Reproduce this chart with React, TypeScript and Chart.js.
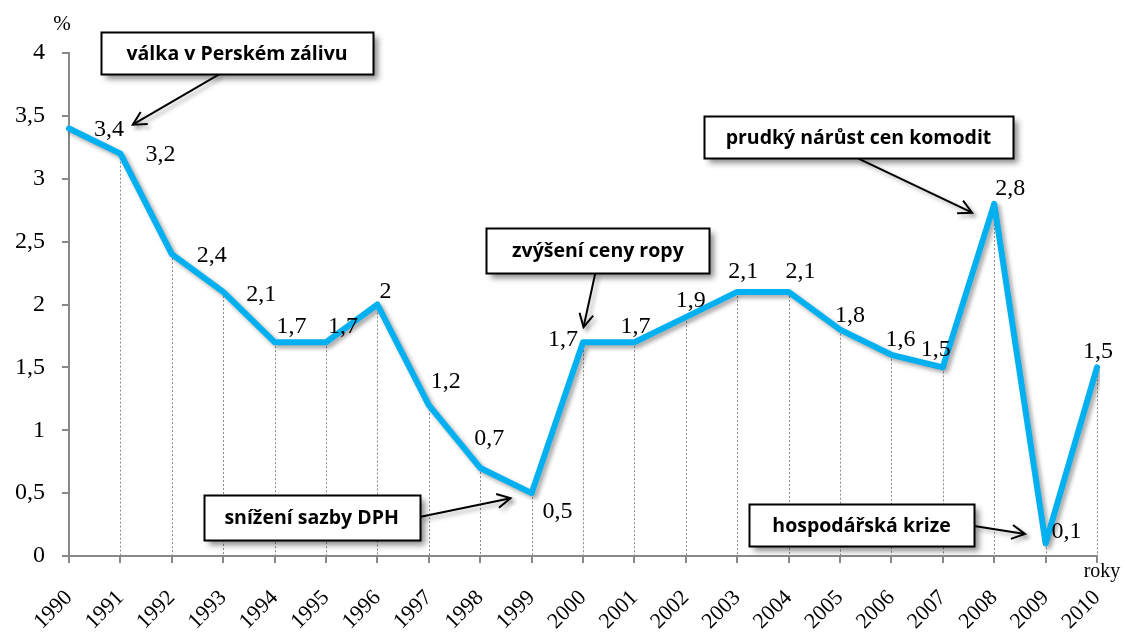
import React, { useEffect, useRef } from "react";
import { Chart, registerables } from "chart.js";

Chart.register(...registerables);

// ---- data ----
const years = ["1990","1991","1992","1993","1994","1995","1996","1997","1998","1999","2000","2001","2002","2003","2004","2005","2006","2007","2008","2009","2010"];
const inflation = [3.4, 3.2, 2.4, 2.1, 1.7, 1.7, 2.0, 1.2, 0.7, 0.5, 1.7, 1.7, 1.9, 2.1, 2.1, 1.8, 1.6, 1.5, 2.8, 0.1, 1.5];
const yTickValues = [0, 0.5, 1, 1.5, 2, 2.5, 3, 3.5, 4];
const yUnit = "%";
const xUnit = "roky";

// ---- label placement (style) ----
const labelDx = [40, 40, 40, 38, 17, 17, 8, 17, 9, 26, -20, 1, 5, 6, 12, 10, 9, -7, 16, 21, 1];
const labelDy = [1, 1, 2, 3, -16, -16, -13, -23, -29, 19, -3, -16, -16, -20, -20, -14, -15, -18, -15, -12, -16];

// ---- annotations (positions in axis units, sizes in px) ----
const annotations = [
  { text: "válka v Perském zálivu", cx: 3.27, cy: 4.0, w: 272, h: 42, fx: 2.92, fy: 3.83, tx: 1.24, ty: 3.43 },
  { text: "snížení sazby DPH", cx: 4.72, cy: 0.31, w: 216, h: 45, fx: 6.82, fy: 0.31, tx: 8.59, ty: 0.46 },
  { text: "zvýšení ceny ropy", cx: 10.29, cy: 2.43, w: 223, h: 45, fx: 10.24, fy: 2.25, tx: 10.01, ty: 1.82 },
  { text: "prudký nárůst cen komodit", cx: 15.36, cy: 3.33, w: 309, h: 42, fx: 15.36, fy: 3.16, tx: 17.57, ty: 2.73 },
  { text: "hospodářská krize", cx: 15.42, cy: 0.246, w: 225, h: 42, fx: 17.61, fy: 0.238, tx: 18.60, ty: 0.175 },
];

const fmt = (v: number) => String(v).replace(".", ",");

const dropLinesPlugin = {
  id: "dropLines",
  beforeDatasetsDraw(chart: any) {
    const { ctx, chartArea } = chart;
    const meta = chart.getDatasetMeta(0);
    ctx.save();
    ctx.strokeStyle = "#8a8a8a";
    ctx.lineWidth = 1;
    ctx.setLineDash([2, 2]);
    meta.data.forEach((pt: any) => {
      const x = Math.round(pt.x) + 0.5;
      ctx.beginPath();
      ctx.moveTo(x, pt.y);
      ctx.lineTo(x, chartArea.bottom);
      ctx.stroke();
    });
    ctx.restore();
  },
};

const shadowPlugin = {
  id: "lineShadow",
  beforeDatasetDraw(chart: any) {
    const ctx = chart.ctx;
    ctx.save();
    ctx.shadowColor = "rgba(0,0,0,0.35)";
    ctx.shadowOffsetX = 3;
    ctx.shadowOffsetY = 3;
    ctx.shadowBlur = 4;
  },
  afterDatasetDraw(chart: any) {
    chart.ctx.restore();
  },
};

const labelsPlugin = {
  id: "valueLabels",
  afterDatasetsDraw(chart: any) {
    const { ctx } = chart;
    const meta = chart.getDatasetMeta(0);
    ctx.save();
    ctx.font = '24px "Liberation Serif"';
    ctx.fillStyle = "#000";
    ctx.textAlign = "center";
    ctx.textBaseline = "middle";
    meta.data.forEach((pt: any, i: number) => {
      ctx.fillText(fmt(inflation[i]), pt.x + labelDx[i], pt.y + labelDy[i]);
    });
    ctx.restore();
  },
};

function drawArrow(ctx: any, x1: number, y1: number, x2: number, y2: number) {
  ctx.beginPath();
  ctx.moveTo(x1, y1);
  ctx.lineTo(x2, y2);
  ctx.stroke();
  const ang = Math.atan2(y2 - y1, x2 - x1);
  const len = 15;
  const spread = Math.PI / 6.5;
  ctx.beginPath();
  ctx.moveTo(x2 - len * Math.cos(ang - spread), y2 - len * Math.sin(ang - spread));
  ctx.lineTo(x2, y2);
  ctx.lineTo(x2 - len * Math.cos(ang + spread), y2 - len * Math.sin(ang + spread));
  ctx.stroke();
}

const annotationsPlugin = {
  id: "annotations",
  afterDraw(chart: any) {
    const { ctx, chartArea } = chart;
    const xs = chart.scales.x;
    const ys = chart.scales.y;
    const px = (i: number) => xs.getPixelForValue(i);
    const py = (v: number) => ys.getPixelForValue(v);

    ctx.save();
    // axis unit texts
    ctx.fillStyle = "#000";
    ctx.textAlign = "center";
    ctx.textBaseline = "middle";
    ctx.font = '21px "Liberation Serif"';
    ctx.fillText(yUnit, chartArea.left - 7, chartArea.top - 29);
    ctx.font = '20px "Liberation Serif"';
    ctx.fillText(xUnit, chartArea.right + 5, chartArea.bottom + 16);

    annotations.forEach((a) => {
      const cx = px(a.cx);
      const cy = py(a.cy);
      const x0 = Math.round(cx - a.w / 2) + 0.5;
      const y0 = Math.round(cy - a.h / 2) + 0.5;
      // arrow with shadow
      ctx.save();
      ctx.shadowColor = "rgba(0,0,0,0.35)";
      ctx.shadowOffsetX = 3;
      ctx.shadowOffsetY = 3;
      ctx.shadowBlur = 4;
      ctx.strokeStyle = "#000";
      ctx.lineWidth = 2;
      drawArrow(ctx, px(a.fx), py(a.fy), px(a.tx), py(a.ty));
      ctx.restore();
      // box with shadow
      ctx.save();
      ctx.shadowColor = "rgba(0,0,0,0.45)";
      ctx.shadowOffsetX = 4;
      ctx.shadowOffsetY = 4;
      ctx.shadowBlur = 6;
      ctx.fillStyle = "#fff";
      ctx.fillRect(x0, y0, a.w, a.h);
      ctx.restore();
      ctx.strokeStyle = "#000";
      ctx.lineWidth = 2;
      ctx.strokeRect(x0, y0, a.w, a.h);
      ctx.fillStyle = "#000";
      ctx.font = 'bold 19.5px "Open Sans"';
      ctx.textAlign = "center";
      ctx.textBaseline = "middle";
      ctx.fillText(a.text, cx, cy + 1);
    });
    ctx.restore();
  },
};

export default function App() {
  const ref = useRef<HTMLCanvasElement | null>(null);

  useEffect(() => {
    if (!ref.current) return;
    const chart = new Chart(ref.current, {
      type: "line",
      data: {
        labels: years,
        datasets: [
          {
            data: inflation,
            borderColor: "#00b0f0",
            borderWidth: 6,
            borderJoinStyle: "round",
            borderCapStyle: "round",
            pointRadius: 0,
            pointHoverRadius: 0,
            tension: 0,
            fill: false,
          },
        ],
      },
      options: {
        responsive: false,
        animation: false,
        events: [],
        layout: { padding: { top: 53, right: 28, left: 0, bottom: 0 } },
        plugins: {
          legend: { display: false },
          tooltip: { enabled: false },
          title: { display: false },
        },
        scales: {
          x: {
            type: "category",
            offset: false,
            border: { display: true, color: "#888", width: 2 },
            grid: {
              display: true,
              drawOnChartArea: false,
              drawTicks: true,
              tickLength: 7,
              color: "#888",
              lineWidth: 2,
            },
            ticks: {
              autoSkip: false,
              minRotation: 45,
              maxRotation: 45,
              padding: 22,
              color: "#000",
              font: { family: "Liberation Serif", size: 22 },
            },
            afterFit(scale: any) {
              scale.height = 79;
              scale.paddingLeft = 0;
              scale.paddingRight = 0;
            },
          },
          y: {
            min: 0,
            max: 4,
            border: { display: true, color: "#888", width: 2 },
            grid: {
              display: true,
              drawOnChartArea: false,
              drawTicks: true,
              tickLength: 7,
              color: "#888",
              lineWidth: 2,
            },
            afterBuildTicks(scale: any) {
              scale.ticks = yTickValues.map((v) => ({ value: v }));
            },
            ticks: {
              padding: 17,
              color: "#000",
              font: { family: "Liberation Serif", size: 24 },
              callback: (v: any) => fmt(Number(v)),
            },
            afterFit(scale: any) {
              scale.width = 69;
            },
          },
        },
      },
      plugins: [dropLinesPlugin, shadowPlugin, labelsPlugin, annotationsPlugin],
    } as any);
    return () => chart.destroy();
  }, []);

  return (
    <div style={{ position: "absolute", left: 0, top: 0, width: 1125, height: 635, background: "#fff" }}>
      <canvas ref={ref} width={1125} height={635} style={{ display: "block" }} />
    </div>
  );
}
